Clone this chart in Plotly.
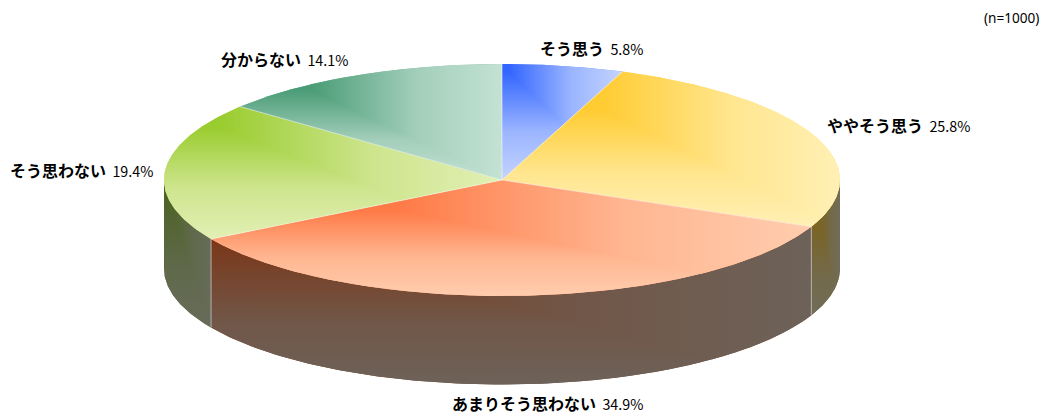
import math
import plotly.graph_objects as go

# ---- data
categories = ["そう思う", "ややそう思う", "あまりそう思わない", "そう思わない", "分からない"]
values = [5.8, 25.8, 34.9, 19.4, 14.1]
sample_note = "(n=1000)"

# ---- style
top_dark = ["#3366FF", "#FFCC33", "#FF7A47", "#99CC2E", "#4A9C76"]
top_light = ["#C4D4FF", "#FFF0B4", "#FFCDAE", "#E2EFB4", "#C4E2D4"]
top_focus = [(0.06, 0.07), (0.30, 0.25), (0.31, 0.26), (0.16, 0.15), (0.27, 0.22)]
side_dark = {1: "#7A6426", 2: "#7A381A", 3: "#4E6326"}
side_light = {1: "#706C58", 2: "#6D6259", 3: "#676B5A"}
side_focus = {1: (0.35, 0.35), 2: (0.10, 0.10), 3: (0.10, 0.12)}
label_pos = [(539, 48), (826, 125), (451, 403), (9, 170), (220, 59)]

# ---- pie geometry on the page-sized axes
CX, CY, RX, RY, DEPTH = 502.0, 180.0, 338.0, 116.0, 88.5


def rim(a):
    return CX + RX * math.sin(a), CY - RY * math.cos(a)


def arc(a0, a1, dy=0.0):
    n = max(3, int(abs(a1 - a0) / 0.01))
    pts = []
    for i in range(n + 1):
        x, y = rim(a0 + (a1 - a0) * i / n)
        pts.append((x, y + dy))
    return pts


def mix(c0, c1, t):
    a = [int(c0[i:i + 2], 16) for i in (1, 3, 5)]
    b = [int(c1[i:i + 2], 16) for i in (1, 3, 5)]
    return "#" + "".join(f"{round(u + (v - u) * t):02X}" for u, v in zip(a, b))


def clip_half(poly, p, q, inside, margin=0.7):
    """Half-plane clip; keeps the reference point's side, grown a little so pieces overlap."""
    norm = math.hypot(q[0] - p[0], q[1] - p[1]) or 1.0

    def side(a):
        return (q[0] - p[0]) * (a[1] - p[1]) - (q[1] - p[1]) * (a[0] - p[0])
    sign = 1.0 if side(inside) >= 0 else -1.0

    def dist(a):
        return side(a) * sign / norm + margin
    out = []
    for i, a in enumerate(poly):
        b = poly[(i + 1) % len(poly)]
        sa, sb = dist(a), dist(b)
        if sa >= 0:
            out.append(a)
        if sa * sb < 0:
            t = sa / (sa - sb)
            out.append((a[0] + t * (b[0] - a[0]), a[1] + t * (b[1] - a[1])))
    return out


def clip_convex(poly, region):
    cx = sum(p[0] for p in region) / len(region)
    cy = sum(p[1] for p in region) / len(region)
    for i, p in enumerate(region):
        if len(poly) < 3:
            return []
        poly = clip_half(poly, p, region[(i + 1) % len(region)], (cx, cy))
    return poly


def add_poly(fig, poly, **fill):
    if len(poly) < 3:
        return
    fig.add_trace(go.Scatter(
        x=[p[0] for p in poly] + [poly[0][0]],
        y=[p[1] for p in poly] + [poly[0][1]],
        mode="lines", line=dict(width=0), fill="toself",
        hoverinfo="skip", showlegend=False, **fill))


def gradient_polygon(fig, poly, dark, light, focus):
    """Corner-type gradient: flat up-left of the focus, L-shaped bands beyond it."""
    xs = [p[0] for p in poly]
    ys = [p[1] for p in poly]
    x0, x1, y0, y1 = min(xs), max(xs), min(ys), max(ys)
    fx, fy = x0 + focus[0] * (x1 - x0), y0 + focus[1] * (y1 - y0)
    ramp = [[0, dark], [0.55, mix(dark, light, 0.72)], [1, light]]
    add_poly(fig, poly, fillcolor=mix(dark, light, 0.4))
    add_poly(fig, clip_convex(poly, [(x0, y0), (fx, y0), (fx, fy), (x0, fy)]), fillcolor=dark)
    add_poly(fig, clip_convex(poly, [(fx, y0), (x1, y0), (x1, y1), (fx, fy)]),
             fillgradient=dict(type="horizontal", colorscale=ramp, start=fx, stop=x1))
    add_poly(fig, clip_convex(poly, [(x0, fy), (fx, fy), (x1, y1), (x0, y1)]),
             fillgradient=dict(type="vertical", colorscale=ramp, start=fy, stop=y1))


fig = go.Figure()
total = sum(values)
bounds = [0.0]
for v in values:
    bounds.append(bounds[-1] + v / total * 2 * math.pi)

# side wall (lower half of the rim only)
for i in side_dark:
    a0 = max(bounds[i], math.pi / 2)
    a1 = min(bounds[i + 1], 3 * math.pi / 2)
    wall = arc(a0, a1) + arc(a0, a1, DEPTH)[::-1]
    gradient_polygon(fig, wall, side_dark[i], side_light[i], side_focus[i])

# wedges
for i in range(len(values)):
    wedge = [(CX, CY)] + arc(bounds[i], bounds[i + 1])
    gradient_polygon(fig, wedge, top_dark[i], top_light[i], top_focus[i])

# thin pale separators
for a in bounds[:-1]:
    x, y = rim(a)
    fig.add_trace(go.Scatter(x=[CX, x], y=[CY, y], mode="lines",
                             line=dict(color="rgba(255,255,255,0.5)", width=1),
                             hoverinfo="skip", showlegend=False))
    if math.pi / 2 < a < 3 * math.pi / 2:
        fig.add_trace(go.Scatter(x=[x, x], y=[y, y + DEPTH], mode="lines",
                                 line=dict(color="rgba(255,255,255,0.5)", width=1),
                                 hoverinfo="skip", showlegend=False))

NUM = "Noto Sans CJK JP"
annotations = []
for name, v, (lx, ly) in zip(categories, values, label_pos):
    annotations.append(dict(
        x=lx, y=ly, xref="x", yref="y", xanchor="left", yanchor="middle",
        showarrow=False, borderpad=0,
        text=f"<b>{name}</b><span style=\"font-family:'{NUM}';font-size:14.3px\">  {v}%</span>",
        font=dict(family="Noto Sans CJK JP", size=16, color="#000000")))
annotations.append(dict(
    x=1041, y=17, xref="x", yref="y", xanchor="right", yanchor="middle",
    showarrow=False, text=sample_note,
    font=dict(family="Noto Sans", size=13.6, color="#000000")))

fig.update_layout(
    width=1045, height=414, margin=dict(l=0, r=0, t=0, b=0),
    paper_bgcolor="white", plot_bgcolor="white", showlegend=False,
    xaxis=dict(range=[0, 1045], visible=False, fixedrange=True),
    yaxis=dict(range=[414, 0], visible=False, fixedrange=True),
    annotations=annotations)

fig.write_html("out.html", config={"displayModeBar": False},
               post_script="document.body.style.margin='0';")
